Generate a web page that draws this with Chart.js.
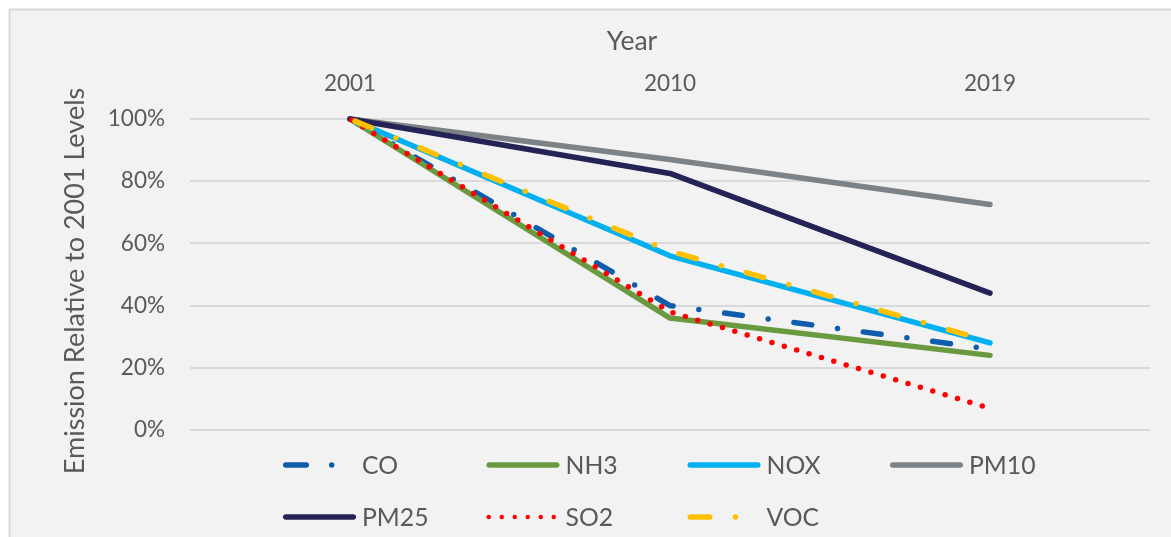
<!DOCTYPE html>
<html>
<head>
<meta charset="utf-8">
<title>Emission Relative to 2001 Levels</title>
<script src="https://cdn.jsdelivr.net/npm/chart.js@4.4.0/dist/chart.umd.min.js"></script>
<style>
  html, body { margin: 0; padding: 0; background: #ffffff; }
  #wrap { width: 1171px; height: 537px; position: relative; }
  canvas { display: block; }
</style>
</head>
<body>
<div id="wrap"><canvas id="chart" width="1171" height="537"></canvas></div>
<script>
// Emission levels as a percentage of the 2001 level
const years = ['2001', '2010', '2019'];
const co   = [100, 40, 26];
const nh3  = [100, 36, 24];
const nox  = [100, 56, 28];
const pm10 = [100, 87, 72.5];
const pm25 = [100, 82.5, 44];
const so2  = [100, 38, 7];
const voc  = [100, 57.5, 28.5];
const yTicks = [0, 20, 40, 60, 80, 100];

const xTitle = 'Year';
const yTitle = 'Emission Relative to 2001 Levels';

const TEXT = '#595959';
const FAMILY = 'Lato, "Open Sans", sans-serif';
const TICK_FONT = { family: FAMILY, size: 22.5 };
const X_TITLE_SIZE = 26.5;
const Y_TITLE_SIZE = 27;
const LEGEND_SIZE = 24.75;

// Fixed plot geometry (pixels)
const PLOT = { left: 190, top: 119, right: 1150, bottom: 430 };

// Axis title anchors (pixels)
const TITLES = { x: { cx: 632, cy: 41 }, y: { cx: 75, cy: 281 } };

// Legend grid: two rows, four columns
const LEGEND = {
  rows: [465, 517],
  cols: [283, 486.5, 687.5, 890],
  sample: 73,
  gap: 6
};

function series(label, data, color, order, extra) {
  return Object.assign({
    label, data,
    borderColor: color,
    backgroundColor: color,
    borderWidth: 5.5,
    borderCapStyle: 'round',
    borderJoinStyle: 'round',
    pointRadius: 0,
    pointHoverRadius: 0,
    tension: 0,
    fill: false,
    clip: false,
    order
  }, extra || {});
}

const datasets = [
  series('CO',   co,   '#0E5DAD', 6, { borderDash: [18, 26, 0, 26], borderDashOffset: 64.5, legendDash: [20.5, 25.45, 0, 200] }),
  series('NH3',  nh3,  '#6A9A40', 5),
  series('NOX',  nox,  '#00B0F0', 4),
  series('PM10', pm10, '#7C8286', 3),
  series('PM25', pm25, '#232356', 2),
  series('SO2',  so2,  '#FF0000', 1, { borderDash: [0, 12.92], borderDashOffset: 10.9, legendDash: [0, 13], legendWidth: 4.5 }),
  series('VOC',  voc,  '#FFC000', 0, { borderDash: [18, 26, 0, 26], borderDashOffset: 64.5, legendDash: [19.5, 25.65, 0, 200] })
];

// Light grey panel with a thin border on the top and left
const panelPlugin = {
  id: 'panel',
  beforeDraw(chart) {
    const { ctx, width, height } = chart;
    ctx.save();
    ctx.fillStyle = '#ffffff';
    ctx.fillRect(0, 0, width, height);
    ctx.fillStyle = '#f2f2f2';
    ctx.fillRect(9, 9, width - 9, height - 9);
    ctx.strokeStyle = '#d9d9d9';
    ctx.lineWidth = 2;
    ctx.beginPath();
    ctx.moveTo(9.5, height);
    ctx.lineTo(9.5, 9.5);
    ctx.lineTo(width, 9.5);
    ctx.stroke();
    ctx.restore();
  }
};

// Axis titles
const titlePlugin = {
  id: 'axisTitles',
  afterDraw(chart) {
    const ctx = chart.ctx;
    ctx.save();
    ctx.fillStyle = TEXT;
    ctx.textAlign = 'center';
    ctx.textBaseline = 'middle';
    ctx.font = `${X_TITLE_SIZE}px ${FAMILY}`;
    ctx.fillText(xTitle, TITLES.x.cx, TITLES.x.cy);
    ctx.font = `${Y_TITLE_SIZE}px ${FAMILY}`;
    ctx.translate(TITLES.y.cx, TITLES.y.cy);
    ctx.rotate(-Math.PI / 2);
    ctx.fillText(yTitle, 0, 0);
    ctx.restore();
  }
};

// Legend drawn on a fixed grid using each dataset's own line style
const legendPlugin = {
  id: 'gridLegend',
  afterDraw(chart) {
    const ctx = chart.ctx;
    chart.data.datasets.forEach((ds, i) => {
      const col = i % 4;
      const row = Math.floor(i / 4);
      const x0 = LEGEND.cols[col];
      const len = LEGEND.sample;
      const y = LEGEND.rows[row];
      const lw = ds.legendWidth || ds.borderWidth;
      ctx.save();
      ctx.strokeStyle = ds.borderColor;
      ctx.lineWidth = lw;
      ctx.lineCap = 'round';
      ctx.setLineDash(ds.legendDash || []);
      ctx.beginPath();
      ctx.moveTo(x0 + lw / 2, y);
      ctx.lineTo(x0 + len - lw / 2, y);
      ctx.stroke();
      ctx.restore();
      ctx.save();
      ctx.fillStyle = TEXT;
      ctx.font = `${LEGEND_SIZE}px ${FAMILY}`;
      ctx.textBaseline = 'middle';
      ctx.textAlign = 'left';
      ctx.fillText(ds.label, x0 + len + LEGEND.gap, y + 1);
      ctx.restore();
    });
  }
};

function draw() {
  Chart.defaults.font.family = FAMILY;
  Chart.defaults.font.size = TICK_FONT.size;
  Chart.defaults.color = TEXT;

  new Chart(document.getElementById('chart'), {
    type: 'line',
    data: { labels: years, datasets },
    options: {
      responsive: false,
      animation: false,
      devicePixelRatio: 1,
      layout: { padding: { left: 0, top: 0, right: 1171 - PLOT.right, bottom: 537 - PLOT.bottom } },
      plugins: {
        legend: { display: false },
        tooltip: { enabled: false }
      },
      scales: {
        x: {
          type: 'category',
          position: 'top',
          offset: true,
          grid: { display: false },
          border: { display: false },
          ticks: { padding: 14, color: TEXT, font: TICK_FONT, maxRotation: 0 },
          afterFit(scale) { scale.height = PLOT.top; }
        },
        y: {
          min: 0,
          max: 100,
          afterBuildTicks(scale) { scale.ticks = yTicks.map(v => ({ value: v })); },
          grid: { color: '#d9d9d9', lineWidth: 2, drawTicks: false },
          border: { display: false },
          ticks: { padding: 25, color: TEXT, font: TICK_FONT, callback: v => v + '%' },
          afterFit(scale) { scale.width = PLOT.left; }
        }
      }
    },
    plugins: [panelPlugin, titlePlugin, legendPlugin]
  });
}

if (document.fonts && document.fonts.load) {
  Promise.all([
    document.fonts.load(`${TICK_FONT.size}px Lato`),
    document.fonts.load(`${Y_TITLE_SIZE}px Lato`)
  ]).then(draw, draw);
} else {
  draw();
}
</script>
</body>
</html>
